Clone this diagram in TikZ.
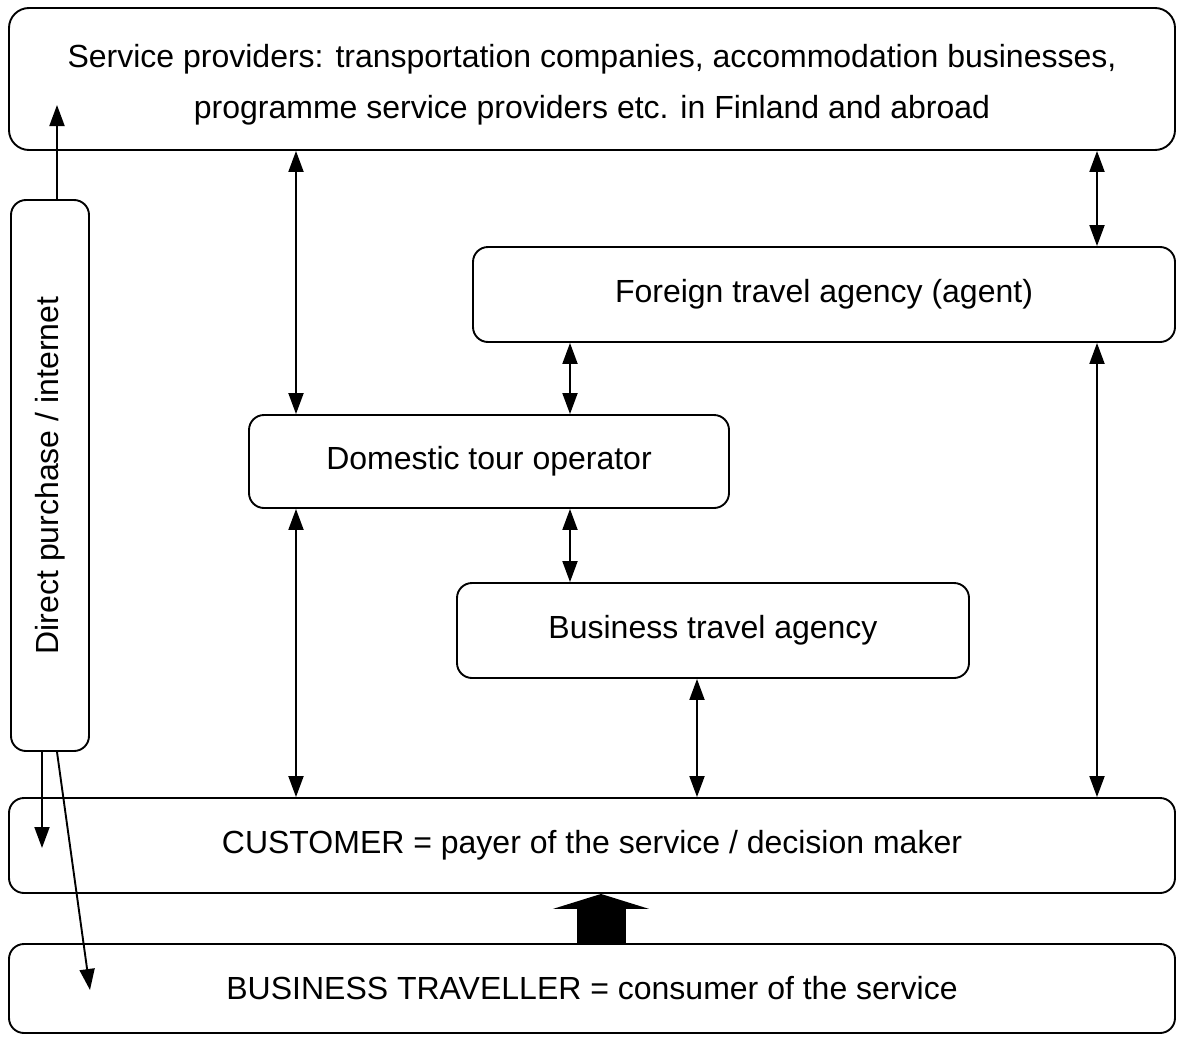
\documentclass[tikz,border=0pt]{standalone}
\usepackage{fontspec}
\setmainfont{Liberation Sans}
\usetikzlibrary{arrows.meta}
\begin{document}
\begin{tikzpicture}[x=1pt,y=-1pt,
  box/.style={draw,line width=1.9pt,rounded corners=15pt,inner sep=0pt,
    font=\fontsize{32}{51}\selectfont,align=center},
  dbl/.style={line width=1.9pt,{Triangle[length=21pt,width=15pt]}-{Triangle[length=21pt,width=15pt]}},
  sgl/.style={line width=1.9pt,-{Triangle[length=21pt,width=15pt]}}]
\useasboundingbox (0,0) rectangle (1183,1036);
\node[box,rounded corners=20pt,minimum width=1166pt,minimum height=142pt] (top) at (592,79) {};
\node[font=\fontsize{32}{51}\selectfont,align=center] (toptext) at (592,85)
  {Service providers: transportation companies, accommodation businesses,\\programme service providers etc. in Finland and abroad};
\node[box,minimum width=78pt,minimum height=551pt] (left) at (50,475.5) {};
\node[rotate=90,font=\fontsize{32}{51}\selectfont] (lefttext) at (50,475.5) {Direct purchase / internet};
\node[box,minimum width=702pt,minimum height=95pt] (foreign) at (824,294.5) {Foreign travel agency (agent)};
\node[box,minimum width=480pt,minimum height=93pt] (dom) at (489,461.5) {Domestic tour operator};
\node[box,minimum width=512pt,minimum height=95pt] (bta) at (713,630.5) {Business travel agency};
\node[box,minimum width=1166pt,minimum height=95pt] (cust) at (592,845.5) {CUSTOMER = payer of the service / decision maker};
\node[box,minimum width=1166pt,minimum height=89pt] (trav) at (592,988.5) {BUSINESS TRAVELLER = consumer of the service};
% x positions
\coordinate (xa) at (296,0);
\coordinate (xb) at (570,0);
\coordinate (xc) at (697,0);
\coordinate (xd) at (1097,0);
\coordinate (xe) at (57,0);
\coordinate (xf) at (42,0);
\coordinate (xg) at (601,0);
\coordinate (tipA) at (57,105);
\coordinate (tipB) at (42,848);
\coordinate (tipC) at (90,990);
\draw[dbl] (dom.north -| xa) -- (top.south -| xa);
\draw[dbl] (foreign.north -| xd) -- (top.south -| xd);
\draw[dbl] (dom.north -| xb) -- (foreign.south -| xb);
\draw[dbl] (bta.north -| xb) -- (dom.south -| xb);
\draw[dbl] (cust.north -| xa) -- (dom.south -| xa);
\draw[dbl] (cust.north -| xc) -- (bta.south -| xc);
\draw[dbl] (cust.north -| xd) -- (foreign.south -| xd);
\draw[sgl] (left.north -| xe) -- (tipA);
\draw[sgl] (left.south -| xf) -- (tipB);
\draw[sgl] (left.south -| xe) -- (tipC);
\draw[line width=49pt,-{Triangle[length=15pt,width=96pt]}] (trav.north -| xg) -- (cust.south -| xg);
\end{tikzpicture}
\end{document}
